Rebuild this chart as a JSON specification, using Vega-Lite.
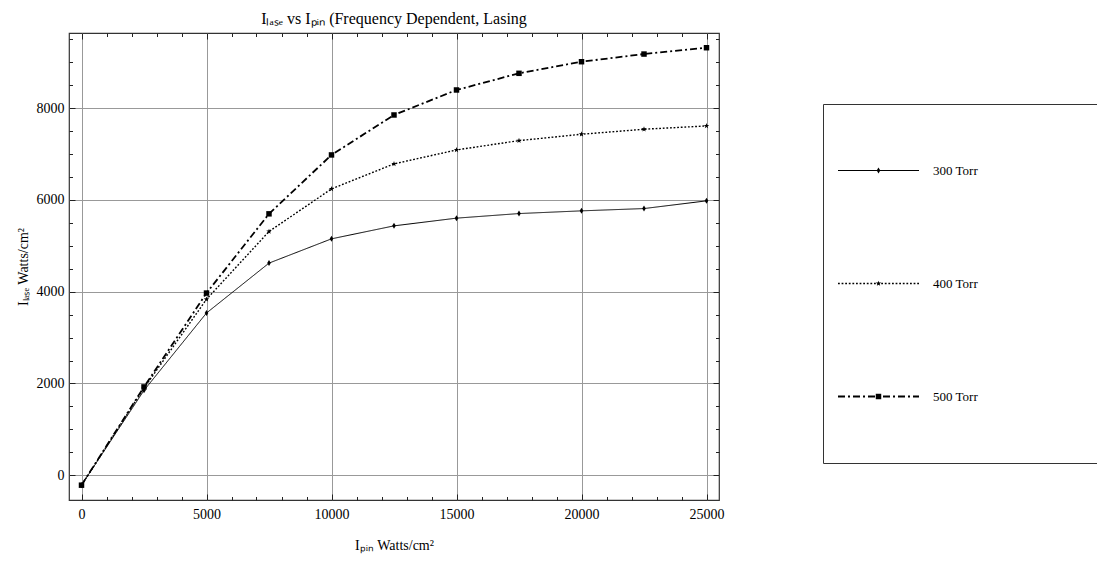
{
  "$schema": "https://vega.github.io/schema/vega-lite/v6.json",
  "width": 650,
  "height": 467,
  "autosize": "none",
  "padding": {"left": 69, "top": 33, "right": 378, "bottom": 68},
  "background": "white",
  "view": {"stroke": "#333", "strokeWidth": 1.2},
  "config": {"font": "Liberation Serif"},
  "title": {
    "text": "Iₗₐₛₑ vs Iₚᵢₙ (Frequency Dependent, Lasing",
    "font": "Liberation Serif",
    "fontSize": 16,
    "fontWeight": "normal",
    "color": "black",
    "anchor": "middle",
    "offset": 6
  },
  "data": {
    "values": [
      {"x": 0, "y": -217, "series": "300 Torr", "p": 300},
      {"x": 2500, "y": 1850, "series": "300 Torr", "p": 300},
      {"x": 5000, "y": 3536, "series": "300 Torr", "p": 300},
      {"x": 7500, "y": 4624, "series": "300 Torr", "p": 300},
      {"x": 10000, "y": 5153, "series": "300 Torr", "p": 300},
      {"x": 12500, "y": 5436, "series": "300 Torr", "p": 300},
      {"x": 15000, "y": 5604, "series": "300 Torr", "p": 300},
      {"x": 17500, "y": 5704, "series": "300 Torr", "p": 300},
      {"x": 20000, "y": 5763, "series": "300 Torr", "p": 300},
      {"x": 22500, "y": 5813, "series": "300 Torr", "p": 300},
      {"x": 25000, "y": 5981, "series": "300 Torr", "p": 300},
      {"x": 0, "y": -217, "series": "400 Torr", "p": 400},
      {"x": 2500, "y": 1900, "series": "400 Torr", "p": 400},
      {"x": 5000, "y": 3835, "series": "400 Torr", "p": 400},
      {"x": 7500, "y": 5313, "series": "400 Torr", "p": 400},
      {"x": 10000, "y": 6242, "series": "400 Torr", "p": 400},
      {"x": 12500, "y": 6787, "series": "400 Torr", "p": 400},
      {"x": 15000, "y": 7091, "series": "400 Torr", "p": 400},
      {"x": 17500, "y": 7294, "series": "400 Torr", "p": 400},
      {"x": 20000, "y": 7433, "series": "400 Torr", "p": 400},
      {"x": 22500, "y": 7542, "series": "400 Torr", "p": 400},
      {"x": 25000, "y": 7614, "series": "400 Torr", "p": 400},
      {"x": 0, "y": -217, "series": "500 Torr", "p": 500},
      {"x": 2500, "y": 1925, "series": "500 Torr", "p": 500},
      {"x": 5000, "y": 3971, "series": "500 Torr", "p": 500},
      {"x": 7500, "y": 5698, "series": "500 Torr", "p": 500},
      {"x": 10000, "y": 6982, "series": "500 Torr", "p": 500},
      {"x": 12500, "y": 7853, "series": "500 Torr", "p": 500},
      {"x": 15000, "y": 8398, "series": "500 Torr", "p": 500},
      {"x": 17500, "y": 8761, "series": "500 Torr", "p": 500},
      {"x": 20000, "y": 9014, "series": "500 Torr", "p": 500},
      {"x": 22500, "y": 9181, "series": "500 Torr", "p": 500},
      {"x": 25000, "y": 9319, "series": "500 Torr", "p": 500}
    ]
  },
  "resolve": {"axis": {"x": "independent", "y": "independent"}},
  "layer": [
    {
      "mark": {"type": "line", "color": "black"},
      "encoding": {
        "x": {
          "field": "x", "type": "quantitative",
          "scale": {"domain": [-500, 25500], "nice": false, "zero": false},
          "axis": {
            "orient": "bottom",
            "values": [0, 5000, 10000, 15000, 20000, 25000],
            "format": "d",
            "ticks": false, "domain": false,
            "grid": true, "gridColor": "#999", "gridWidth": 1,
            "labelFont": "Liberation Serif", "labelFontSize": 14, "labelColor": "black",
            "labelPadding": 7, "labelFlush": false, "labelOverlap": false,
            "title": "Iₚᵢₙ  Watts/cm²",
            "titleFont": "Liberation Serif", "titleFontSize": 14, "titleFontWeight": "normal",
            "titleColor": "black", "titlePadding": 17
          }
        },
        "y": {
          "field": "y", "type": "quantitative",
          "scale": {"domain": [-540, 9640], "nice": false, "zero": false},
          "axis": {
            "orient": "left",
            "values": [0, 2000, 4000, 6000, 8000],
            "format": "d",
            "ticks": false, "domain": false,
            "grid": true, "gridColor": "#999", "gridWidth": 1,
            "labelFont": "Liberation Serif", "labelFontSize": 14, "labelColor": "black",
            "labelPadding": 5, "labelFlush": false, "labelOverlap": false,
            "title": "Iₗₐₛₑ  Watts/cm²",
            "titleFont": "Liberation Serif", "titleFontSize": 14, "titleFontWeight": "normal",
            "titleColor": "black", "titlePadding": 6
          }
        },
        "strokeDash": {
          "field": "series", "type": "nominal",
          "scale": {"domain": ["300 Torr", "400 Torr", "500 Torr"], "range": [[1, 0], [1.8, 1.8], [7, 3, 2, 3]]},
          "legend": {
            "orient": "none", "legendX": 754, "legendY": 71, "direction": "vertical",
            "strokeColor": "#333", "padding": 14,
            "symbolType": "stroke", "symbolSize": 6561, "symbolStrokeColor": "black",
            "labelOffset": 13, "labelFont": "Liberation Serif", "labelFontSize": 13, "labelColor": "black",
            "clipHeight": 105, "rowPadding": 8,
            "title": "\u2800\u2800\u2800\u2800\u2800\u2800\u2800\u2800\u2800\u2800",
            "titleOrient": "right", "titleFont": "DejaVu Sans", "titleFontSize": 13.4, "titlePadding": 0, "titleLimit": 400, "titleOpacity": 0
          }
        },
        "strokeWidth": {
          "field": "series", "type": "nominal",
          "scale": {"domain": ["300 Torr", "400 Torr", "500 Torr"], "range": [1, 1.8, 2.3]},
          "legend": {
            "orient": "none", "legendX": 754, "legendY": 71, "direction": "vertical",
            "strokeColor": "#333", "padding": 14,
            "symbolType": "stroke", "symbolSize": 6561, "symbolStrokeColor": "black",
            "labelOffset": 13, "labelFont": "Liberation Serif", "labelFontSize": 13, "labelColor": "black",
            "clipHeight": 105, "rowPadding": 8,
            "title": "\u2800\u2800\u2800\u2800\u2800\u2800\u2800\u2800\u2800\u2800",
            "titleOrient": "right", "titleFont": "DejaVu Sans", "titleFontSize": 13.4, "titlePadding": 0, "titleLimit": 400, "titleOpacity": 0
          }
        }
      }
    },
    {
      "mark": {"type": "point", "filled": true, "opacity": 1, "color": "black", "strokeWidth": 0},
      "encoding": {
        "x": {
          "field": "x", "type": "quantitative",
          "axis": {
            "orient": "bottom", "values": [0, 5000, 10000, 15000, 20000, 25000],
            "ticks": true, "tickSize": -6, "tickColor": "#222", "tickWidth": 1,
            "labels": false, "domain": false, "grid": false, "title": null
          }
        },
        "y": {
          "field": "y", "type": "quantitative",
          "axis": {
            "orient": "left", "values": [0, 2000, 4000, 6000, 8000],
            "ticks": true, "tickSize": -6, "tickColor": "#222", "tickWidth": 1,
            "labels": false, "domain": false, "grid": false, "title": null
          }
        },
        "shape": {
          "field": "p", "type": "nominal",
          "scale": {"domain": [300, 400, 500], "range": ["M0,-1L0.6,0L0,1L-0.6,0Z", "M0,-1L0.235,-0.324L0.951,-0.309L0.38,0.124L0.588,0.809L0,0.4L-0.588,0.809L-0.38,0.124L-0.951,-0.309L-0.235,-0.324Z", "square"]},
          "legend": {
            "orient": "none", "legendX": 754, "legendY": 71, "direction": "vertical",
            "padding": 14, "zindex": 2,
            "symbolOffset": 35, "symbolFillColor": "black", "symbolStrokeColor": "black", "symbolStrokeWidth": 0,
            "labelExpr": "''", "labelFontSize": 13,
            "clipHeight": 105, "rowPadding": 8,
            "title": null
          }
        },
        "size": {
          "field": "p", "type": "nominal",
          "scale": {"domain": [300, 400, 500], "range": [36, 30, 64]},
          "legend": {
            "orient": "none", "legendX": 754, "legendY": 71, "direction": "vertical",
            "padding": 14, "zindex": 2,
            "symbolOffset": 35, "symbolFillColor": "black", "symbolStrokeColor": "black", "symbolStrokeWidth": 0,
            "labelExpr": "''", "labelFontSize": 13,
            "clipHeight": 105, "rowPadding": 8,
            "title": null
          }
        }
      }
    },
    {
      "mark": {"type": "point", "opacity": 0},
      "encoding": {
        "x": {
          "field": "x", "type": "quantitative",
          "axis": {
            "orient": "bottom",
            "values": [0, 1000, 2000, 3000, 4000, 6000, 7000, 8000, 9000, 11000, 12000, 13000, 14000, 16000, 17000, 18000, 19000, 21000, 22000, 23000, 24000],
            "ticks": true, "tickSize": -3.5, "tickColor": "#222", "tickWidth": 1,
            "labels": false, "domain": false, "grid": false, "title": null
          }
        },
        "y": {
          "field": "y", "type": "quantitative",
          "axis": {
            "orient": "left",
            "values": [500, 1000, 1500, 2500, 3000, 3500, 4500, 5000, 5500, 6500, 7000, 7500, 8500, 9000, 9500],
            "ticks": true, "tickSize": -3.5, "tickColor": "#222", "tickWidth": 1,
            "labels": false, "domain": false, "grid": false, "title": null
          }
        }
      }
    },
    {
      "mark": {"type": "point", "opacity": 0},
      "encoding": {
        "x": {
          "field": "x", "type": "quantitative",
          "axis": {
            "orient": "top", "values": [0, 5000, 10000, 15000, 20000, 25000],
            "ticks": true, "tickSize": -6, "tickColor": "#222", "tickWidth": 1,
            "labels": false, "domain": false, "grid": false, "title": null
          }
        },
        "y": {
          "field": "y", "type": "quantitative",
          "axis": {
            "orient": "right", "values": [0, 2000, 4000, 6000, 8000],
            "ticks": true, "tickSize": -6, "tickColor": "#222", "tickWidth": 1,
            "labels": false, "domain": false, "grid": false, "title": null
          }
        }
      }
    },
    {
      "mark": {"type": "point", "opacity": 0},
      "encoding": {
        "x": {
          "field": "x", "type": "quantitative",
          "axis": {
            "orient": "top",
            "values": [1000, 2000, 3000, 4000, 6000, 7000, 8000, 9000, 11000, 12000, 13000, 14000, 16000, 17000, 18000, 19000, 21000, 22000, 23000, 24000],
            "ticks": true, "tickSize": -3.5, "tickColor": "#222", "tickWidth": 1,
            "labels": false, "domain": false, "grid": false, "title": null
          }
        },
        "y": {
          "field": "y", "type": "quantitative",
          "axis": {
            "orient": "right",
            "values": [500, 1000, 1500, 2500, 3000, 3500, 4500, 5000, 5500, 6500, 7000, 7500, 8500, 9000, 9500],
            "ticks": true, "tickSize": -3.5, "tickColor": "#222", "tickWidth": 1,
            "labels": false, "domain": false, "grid": false, "title": null
          }
        }
      }
    }
  ]
}
